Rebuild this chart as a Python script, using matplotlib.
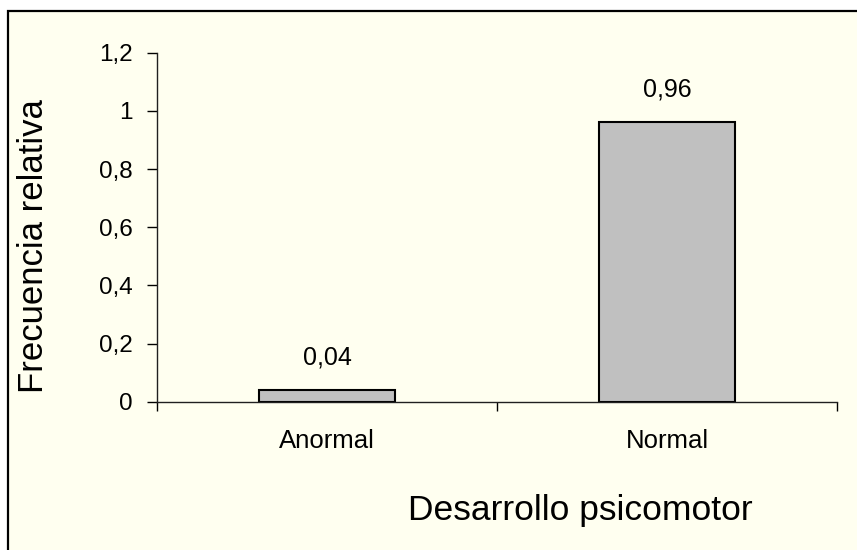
import matplotlib.pyplot as plt
from matplotlib.patches import Rectangle

categories = ['Anormal', 'Normal']
values = [0.04, 0.96]
value_labels = ['0,04', '0,96']
y_ticks = [0, 0.2, 0.4, 0.6, 0.8, 1.0, 1.2]
y_tick_labels = ['0', '0,2', '0,4', '0,6', '0,8', '1', '1,2']

plt.rcParams['font.family'] = ['Liberation Sans', 'DejaVu Sans']
cream = '#FFFFF0'

fig = plt.figure(figsize=(8.57, 5.5), dpi=100, facecolor='white')
# chart area frame, cut off at the right and bottom like the original
fig.patches.append(Rectangle((8 / 857, -0.1), 2.0, 1.1 - 11 / 550,
                             transform=fig.transFigure, facecolor=cream,
                             edgecolor='black', linewidth=1.6, zorder=-5))

ax = fig.add_axes([157 / 857, 1 - 401.7 / 550, 680 / 857, 349 / 550])
ax.set_facecolor('none')

pos = list(range(len(categories)))
bars = ax.bar(pos, values, width=0.4, color='#C0C0C0', edgecolor='black', linewidth=1.5)
for b, lab in zip(bars, value_labels):
    ax.annotate(lab, (b.get_x() + b.get_width() / 2, b.get_height()),
                xytext=(0, 18.5), textcoords='offset points',
                ha='center', va='baseline', fontsize=18)

ax.set_xlim(-0.5, len(categories) - 0.5)
ax.set_ylim(0, 1.2)
ax.set_yticks(y_ticks)
ax.set_yticklabels(y_tick_labels, fontsize=17.5)
ax.tick_params(axis='y', direction='out', length=7, width=1, pad=10.5)

ax.set_xticks(pos)
ax.set_xticklabels(categories, fontsize=18.5)
ax.set_xticks([-0.5, 0.5, 1.5], minor=True)
ax.tick_params(axis='x', which='major', length=0, pad=20)
ax.tick_params(axis='x', which='minor', direction='out', length=6.5, width=1)

for s in ['top', 'right']:
    ax.spines[s].set_visible(False)
for s in ['left', 'bottom']:
    ax.spines[s].set_linewidth(1)
    ax.spines[s].set_color('#202020')

fig.text(34 / 857, 1 - 246 / 550, 'Frecuencia relativa', rotation=90,
         ha='center', va='center', fontsize=25)
fig.text(580 / 857, 1 - 520 / 550, 'Desarrollo psicomotor',
         ha='center', va='baseline', fontsize=25.5)

fig.savefig('out.png', dpi=100, facecolor='white')
